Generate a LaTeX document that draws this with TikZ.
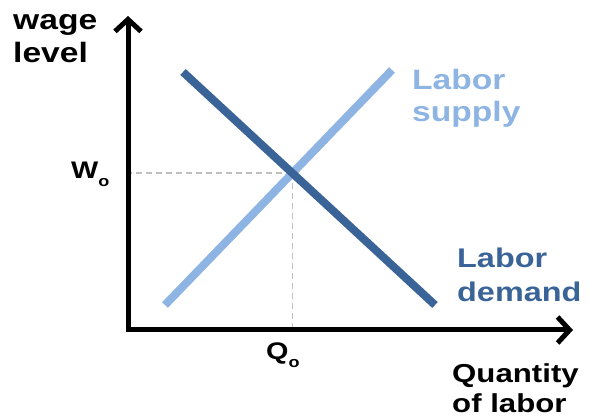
\documentclass[tikz,border=0pt]{standalone}
\usepackage{fontspec}
\setmainfont{Liberation Sans}[FakeStretch=1.2]
\usetikzlibrary{arrows.meta}
\definecolor{demandblue}{HTML}{3A6498}
\definecolor{supplyblue}{HTML}{8DB4E2}
\newcommand{\lowsub}[1]{\raisebox{-8pt}{\fontsize{15}{15}\selectfont #1}}
\tikzset{
axis/.style={line width=5pt,-{Straight Barb[length=12pt,width=26pt,line width=5pt]}},
curve/.style={line width=8pt,draw=#1},
guide/.style={draw=black!25,line width=1.5pt,dash pattern=on 6pt off 4pt},
lbl/.style={font=\fontsize{#1}{#1}\selectfont\bfseries,align=left,inner sep=0pt,anchor=base west}
}

\begin{document}
\begin{tikzpicture}[x=1pt,y=-1pt]
\useasboundingbox (0,0) rectangle (590,419);

\coordinate (O) at (128,330);
\coordinate (ytip) at (128,16);
\coordinate (xtip) at (573,330);

\coordinate (D1) at (183,72);
\coordinate (D2) at (435,305);
\coordinate (S1) at (165,305);
\coordinate (S2) at (392,70);
\coordinate (E) at (intersection of D1--D2 and S1--S2);

% dashed guides to the axes
\draw[guide] (E) -- (E -| O);
\draw[guide] (E) -- (E |- O);

% supply and demand
\draw[curve=supplyblue] (S1) -- (S2);
\draw[curve=demandblue] (D1) -- (D2);

% axes
\draw[axis] ([yshift=2pt]O) -- (ytip);
\draw[axis] ([xshift=-2pt]O) -- (xtip);

% labels (base = last line)
\node[lbl=28] (wage) at (13,63) {wage\\[5pt]level};
\node[lbl=24] (W0) at (71,179) {W\lowsub{o}};
\node[lbl=24] (Q0) at (266,360) {Q\lowsub{o}};
\node[lbl=26] (qty) at (452,413) {Quantity\\[4pt]of labor};
\node[lbl=28,text=supplyblue] (sup) at (412,122) {Labor\\[4pt]supply};
\node[lbl=27,text=demandblue] (dem) at (457,302) {Labor\\[7pt]demand};
\end{tikzpicture}
\end{document}
